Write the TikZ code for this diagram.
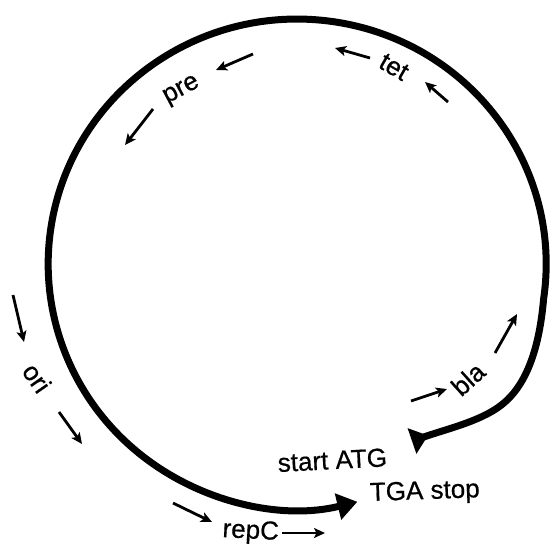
\documentclass[tikz,border=0pt]{standalone}
\usepackage{fontspec}
\setmainfont{Liberation Sans}
\newfontfamily\lblfont{Liberation Sans}[FakeBold=0.6]
\usetikzlibrary{arrows.meta}
\begin{document}
\begin{tikzpicture}[x=1pt,y=-1pt,
  backbone/.style={line width=7pt},
  gene/.style={line width=2.8pt,-{Stealth[length=11pt,width=10pt,inset=2.5pt]}},
  lbl/.style={font=\lblfont\fontsize{26}{26}\selectfont,inner sep=0pt},
]
\useasboundingbox (0,0) rectangle (551,544);

% plasmid backbone: from the ATG start, round the circle, to the TGA stop
\draw[backbone,{Triangle[reversed,length=17pt,width=26pt]}-{Triangle[length=20pt,width=26pt]}]
  (412,441) .. controls (450,428) and (485,420) .. (505,402)
  .. controls (530,380) and (540,340) .. (543.6,299)
  arc[start angle=8.2,end angle=-284,x radius=249,y radius=245];

% gene labels
\node[lbl,rotate=-30] (tet) at (394,67) {tet};
\node[lbl,rotate=28] (pre) at (182,91) {pre};
\node[lbl,rotate=-55] (ori) at (37,378) {ori};
\node[lbl,anchor=base west,rotate=-3] (repC) at (222,537) {repC};
\node[lbl,rotate=42] (bla) at (468,379) {bla};
\node[lbl,anchor=base west,rotate=3] (start) at (278,472) {start ATG};
\node[lbl,anchor=base west,rotate=2] (stop) at (370,501) {TGA stop};

% direction marks beside each gene
\draw[gene] (448,102) -- (425,82);
\draw[gene] (370,58) -- (335,48);
\draw[gene] (253,54) -- (216,70);
\draw[gene] (153,109) -- (125,145);
\draw[gene] (13,295) -- (24,342);
\draw[gene] (59,412) -- (82,444);
\draw[gene] (173,503) -- (212,522);
\draw[gene] (282,533) -- (325,533);
\draw[gene] (411,401) -- (447,389);
\draw[gene] (495,353) -- (517,314);
\end{tikzpicture}
\end{document}
